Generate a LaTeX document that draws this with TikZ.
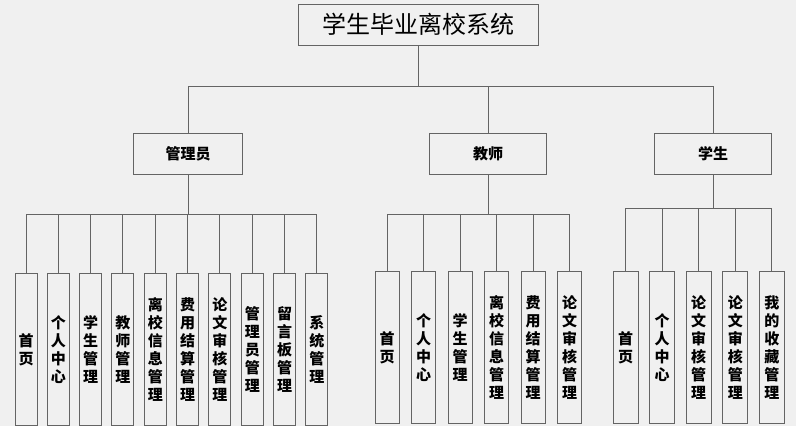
\documentclass[tikz,border=0pt]{standalone}
\usepackage{fontspec}
\setmainfont{Noto Sans CJK SC}
\usetikzlibrary{positioning}
\definecolor{bgc}{RGB}{240,240,240}
\definecolor{linec}{RGB}{100,100,100}

\begin{document}
\begin{tikzpicture}[x=1pt,y=-1pt,-,auto]
	\tikzstyle{conn}=[draw=linec, line width=1pt]
	\tikzstyle{top}=[draw=linec, line width=1pt, fill=bgc, inner sep=0pt, minimum width=240, minimum height=41, font=\fontsize{24}{28}\selectfont]
	\tikzstyle{mid}=[draw=linec, line width=1pt, fill=bgc, inner sep=0pt, minimum width=109, minimum height=41, font=\fontsize{15}{18}\selectfont\bfseries]
	\tikzstyle{leaf}=[draw=linec, line width=1pt, fill=bgc, inner sep=0pt, anchor=north, align=center, minimum width=24, minimum height=152, font=\fontsize{15}{18}\selectfont\bfseries]
	\fill[bgc] (0,0) rectangle (796,426);
	\useasboundingbox (0,0) rectangle (796,426);

	\node[top]                      (root) at (418,24.5)  {学生毕业离校系统};
	\node[mid]                      (adm)  at (188,153.5) {管理员};
	\node[mid, minimum width=117]   (tea)  at (488,153.5) {教师};
	\node[mid, minimum width=117]   (stu)  at (713,153.5) {学生};
	\coordinate (busA) at (418,86);
	\coordinate (busB) at (188,214);
	\coordinate (busC) at (488,214);
	\coordinate (busD) at (713,208);

	% 管理员
	\foreach \t [count=\i] in {首\\页, 个\\人\\中\\心, 学\\生\\管\\理, 教\\师\\管\\理,
		离\\校\\信\\息\\管\\理, 费\\用\\结\\算\\管\\理, 论\\文\\审\\核\\管\\理,
		管\\理\\员\\管\\理, 留\\言\\板\\管\\理, 系\\统\\管\\理}
		\node[leaf, minimum width=22] (a\i) at ({26+32.33*(\i-1)},273) {\t};
	% 教师
	\foreach \t [count=\i] in {首\\页, 个\\人\\中\\心, 学\\生\\管\\理,
		离\\校\\信\\息\\管\\理, 费\\用\\结\\算\\管\\理, 论\\文\\审\\核\\管\\理}
		\node[leaf] (t\i) at ({387+36.5*(\i-1)},271) {\t};
	% 学生
	\foreach \t [count=\i] in {首\\页, 个\\人\\中\\心, 论\\文\\审\\核\\管\\理,
		论\\文\\审\\核\\管\\理, 我\\的\\收\\藏\\管\\理}
		\node[leaf, minimum width=25] (s\i) at ({625.5+36.6*(\i-1)},271) {\t};

	\foreach \n in {adm,tea,stu}
		\draw[conn] (root.south) -- (root.south |- busA) -| (\n.north);
	\foreach \i in {1,...,10}
		\draw[conn] (adm.south) -- (adm.south |- busB) -| (a\i.north);
	\foreach \i in {1,...,6}
		\draw[conn] (tea.south) -- (tea.south |- busC) -| (t\i.north);
	\foreach \i in {1,...,5}
		\draw[conn] (stu.south) -- (stu.south |- busD) -| (s\i.north);
\end{tikzpicture}
\end{document}
